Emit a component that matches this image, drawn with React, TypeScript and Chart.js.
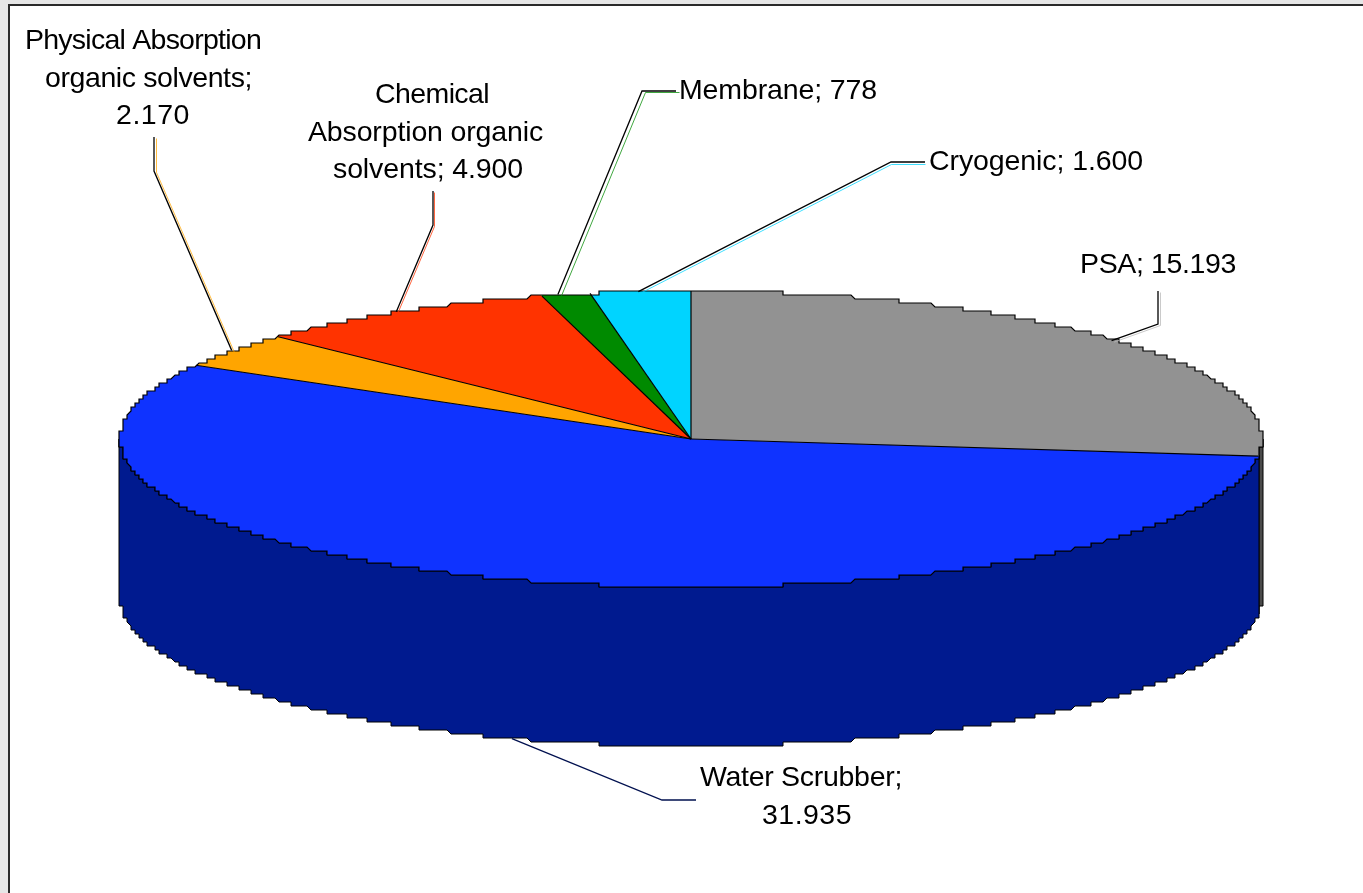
import React, { useEffect, useRef } from "react";
import { Chart, registerables } from "chart.js";

Chart.register(...registerables);

const categories = ["PSA", "Water Scrubber", "Physical Absorption organic solvents", "Chemical Absorption organic solvents", "Membrane", "Cryogenic"];
const values = [15193, 31935, 2170, 4900, 778, 1600];
const topColors = ["#929292", "#0F33FF", "#FFA500", "#FF3300", "#008A00", "#00D4FF"];
const sideColors = ["#4A4A4A", "#001A8F", "#805300", "#801A00", "#004500", "#006A80"];
const leaderTints = ["#b8b8b8", "#001A8F", "#FFA500", "#FF3300", "#008A00", "#00D4FF"];

const PIE = { cx: 691, cy: 439, rx: 571, ry: 148, depth: 159, step: 4 };
const FONT = '28.5px "Liberation Sans", Arial, sans-serif';

type Layout = {
  words: number[];
  align: CanvasTextAlign;
  x: number[];
  y: number[];
  w: number[];
  elbow: number[][];
  tint: number[];
  nudge: number;
  onBottom?: boolean;
};

const layouts: Layout[] = [
  { words: [3], align: "center", x: [1158], y: [273], w: [156], elbow: [[1158, 291], [1158, 324]], tint: [2, 1], nudge: -6 },
  { words: [2, 1], align: "center", x: [801, 807], y: [786, 824], w: [202, 90], elbow: [[696, 800], [662, 800]], tint: [0, 0], nudge: 0, onBottom: true },
  { words: [2, 2, 1], align: "center", x: [143, 148.5, 153], y: [49, 87, 124], w: [236, 207, 74], elbow: [[154, 137], [154, 171]], tint: [2, 1], nudge: -2 },
  { words: [1, 2, 2], align: "center", x: [432, 425.5, 428], y: [103, 141, 178], w: [114, 235, 190], elbow: [[433, 191], [433, 225]], tint: [1, 1], nudge: -3 },
  { words: [2], align: "left", x: [679], y: [99], w: [198], elbow: [[676, 91], [642, 91]], tint: [3, 1], nudge: -8 },
  { words: [2], align: "left", x: [929], y: [170], w: [214], elbow: [[925, 162], [891, 162]], tint: [0, 2], nudge: -2 },
];

const fmt = (v: number) => String(v).replace(/\B(?=(\d{3})+$)/g, ".");

const SAMPLE = (Math.PI * 2) / 2400;

function stepped(a0: number, a1: number, dy = 0): number[][] {
  const { cx, cy, rx, ry, step } = PIE;
  const pts: number[][] = [];
  const add = (a: number) => {
    const x = cx + Math.round((rx * Math.cos(a)) / step) * step;
    const y = cy + Math.round((ry * Math.sin(a)) / step) * step + dy;
    const last = pts[pts.length - 1];
    if (!last || last[0] !== x || last[1] !== y) pts.push([x, y]);
  };
  add(a0);
  for (let k = Math.ceil(a0 / SAMPLE); k * SAMPLE < a1; k++) add(k * SAMPLE);
  add(a1);
  return pts;
}

function trace(ctx: CanvasRenderingContext2D, pts: number[][]) {
  pts.forEach((p, i) => (i ? ctx.lineTo(p[0], p[1]) : ctx.moveTo(p[0], p[1])));
}

const pie3d = {
  id: "pie3d",
  beforeDraw(chart: any) {
    const { ctx, width, height } = chart;
    ctx.save();
    ctx.fillStyle = "#e6e6e6";
    ctx.fillRect(0, 0, width, height);
    ctx.fillStyle = "#ffffff";
    ctx.fillRect(8, 4, width, height);
    ctx.strokeStyle = "#2a2a2a";
    ctx.lineWidth = 2;
    ctx.beginPath();
    ctx.moveTo(9, height);
    ctx.lineTo(9, 5);
    ctx.lineTo(width, 5);
    ctx.stroke();
    ctx.restore();
  },
  beforeDatasetsDraw(chart: any) {
    const { ctx } = chart;
    const arcs = chart.getDatasetMeta(0).data;
    const { cx, cy, rx, ry, depth } = PIE;
    // the front-facing wall of the slices
    arcs.forEach((arc: any, i: number) => {
      const a0 = Math.max(arc.startAngle, 0);
      const a1 = Math.min(arc.endAngle, Math.PI);
      if (a1 <= a0) return;
      const top = stepped(a0, a1);
      const bottom = stepped(a0, a1, depth).reverse();
      ctx.save();
      ctx.beginPath();
      trace(ctx, top.concat(bottom));
      ctx.closePath();
      ctx.fillStyle = sideColors[i];
      ctx.fill();
      ctx.strokeStyle = "#000";
      ctx.lineWidth = 1;
      ctx.stroke();
      ctx.restore();
    });
    // the library's arcs, squeezed to the ellipse and cut to the stepped outline
    const arc = arcs[0];
    ctx.save();
    ctx.beginPath();
    trace(ctx, stepped(0, Math.PI * 2));
    ctx.closePath();
    ctx.clip();
    ctx.translate(cx, cy);
    ctx.scale((rx * 1.03) / arc.outerRadius, (ry * 1.03) / arc.outerRadius);
    ctx.translate(-arc.x, -arc.y);
  },
  afterDatasetsDraw(chart: any) {
    const { ctx } = chart;
    ctx.restore();
    const arcs = chart.getDatasetMeta(0).data;
    const { cx, cy, rx, ry, depth } = PIE;
    ctx.save();
    ctx.strokeStyle = "#000";
    ctx.lineWidth = 1.2;
    ctx.beginPath();
    trace(ctx, stepped(0, Math.PI * 2));
    ctx.closePath();
    ctx.stroke();
    ctx.lineWidth = 1.2;
    arcs.forEach((arc: any) => {
      ctx.beginPath();
      ctx.moveTo(cx, cy);
      ctx.lineTo(cx + rx * Math.cos(arc.startAngle), cy + ry * Math.sin(arc.startAngle));
      ctx.stroke();
    });

    ctx.font = FONT;
    ctx.textBaseline = "alphabetic";
    layouts.forEach((l, i) => {
      const arc = arcs[i];
      const mid = (arc.startAngle + arc.endAngle) / 2;
      const anchor = [
        cx + rx * Math.cos(mid) + l.nudge,
        cy + ry * Math.sin(mid) + (l.onBottom ? depth : 0),
      ];
      const pts = [...l.elbow, anchor];
      if (l.tint[0] || l.tint[1]) {
        ctx.strokeStyle = leaderTints[i];
        ctx.globalAlpha = 0.75;
        ctx.lineWidth = 1;
        ctx.beginPath();
        trace(ctx, pts.map((p) => [p[0] + l.tint[0] + 0.5, p[1] + l.tint[1] + 0.5]));
        ctx.stroke();
        ctx.globalAlpha = 1;
      }
      ctx.strokeStyle = l.onBottom ? "#00104f" : "#000";
      ctx.lineWidth = 1.3;
      ctx.beginPath();
      trace(ctx, pts);
      ctx.stroke();

      const words = `${categories[i]}; ${fmt(values[i])}`.split(" ");
      let w = 0;
      ctx.fillStyle = "#000";
      ctx.textAlign = l.align;
      l.words.forEach((count, k) => {
        const line = words.slice(w, w + count).join(" ");
        (ctx as any).letterSpacing = "0px";
        const natural = ctx.measureText(line).width;
        (ctx as any).letterSpacing = `${(l.w[k] - natural) / line.length}px`;
        ctx.fillText(line, l.x[k], l.y[k]);
        w += count;
      });
    });
    ctx.restore();
  },
};

export default function App() {
  const ref = useRef<HTMLCanvasElement>(null);
  useEffect(() => {
    document.body.style.margin = "0";
    const chart = new Chart(ref.current as HTMLCanvasElement, {
      type: "pie",
      data: {
        labels: categories,
        datasets: [{ data: values, backgroundColor: topColors, borderWidth: 0 }],
      },
      options: {
        animation: false,
        responsive: false,
        layout: { padding: 0 },
        plugins: { legend: { display: false }, tooltip: { enabled: false } },
      },
      plugins: [pie3d],
    } as any);
    return () => chart.destroy();
  }, []);
  return <canvas ref={ref} width={1363} height={893} style={{ display: "block" }} />;
}
